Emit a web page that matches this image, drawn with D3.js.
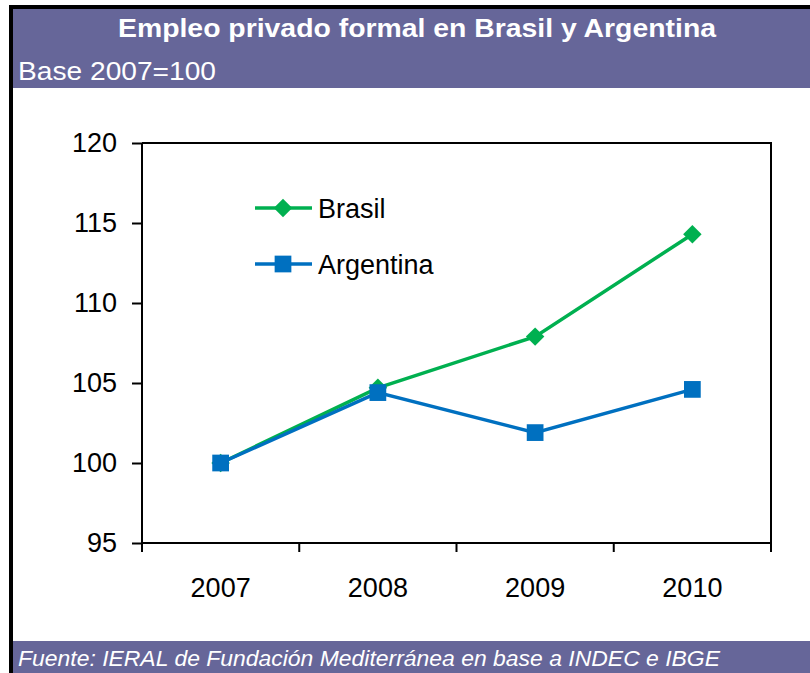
<!DOCTYPE html>
<html>
<head>
<meta charset="utf-8">
<script src="https://cdn.jsdelivr.net/npm/d3@7"></script>
<style>
  body { margin: 0; background: #fff; }
  text { font-family: "Liberation Sans", Arial, sans-serif; }
</style>
</head>
<body>
<div id="chart"></div>
<script>
// data
var years = ["2007", "2008", "2009", "2010"];
var brasil = [100, 104.7, 107.9, 114.3];
var argentina = [100, 104.4, 101.9, 104.6];
var yTicks = [95, 100, 105, 110, 115, 120];

var W = 810, H = 673;
var purple = "#666699";

var svg = d3.select("#chart").append("svg")
    .attr("width", W)
    .attr("height", H);

svg.append("rect").attr("width", W).attr("height", H).attr("fill", "#fff");

// frame: black border top/left, purple title band and footer band
svg.append("rect").attr("x", 9).attr("y", 5).attr("width", W - 9).attr("height", H - 5).attr("fill", "#000");
svg.append("rect").attr("x", 13).attr("y", 9).attr("width", W - 13).attr("height", H - 9).attr("fill", "#fff");
svg.append("rect").attr("x", 13).attr("y", 9).attr("width", W - 13).attr("height", 79).attr("fill", purple);
svg.append("rect").attr("x", 13).attr("y", 641).attr("width", W - 13).attr("height", H - 641).attr("fill", purple);

svg.append("text")
    .attr("x", 417).attr("y", 37)
    .attr("text-anchor", "middle")
    .attr("fill", "#fff")
    .style("font-size", "25px")
    .style("font-weight", "bold")
    .attr("textLength", 598).attr("lengthAdjust", "spacingAndGlyphs")
    .text("Empleo privado formal en Brasil y Argentina");

svg.append("text")
    .attr("x", 18).attr("y", 80)
    .attr("fill", "#fff")
    .style("font-size", "25px")
    .attr("textLength", 198).attr("lengthAdjust", "spacingAndGlyphs")
    .text("Base 2007=100");

svg.append("text")
    .attr("x", 18).attr("y", 666)
    .attr("fill", "#fff")
    .style("font-size", "22px")
    .style("font-style", "italic")
    .attr("textLength", 702).attr("lengthAdjust", "spacingAndGlyphs")
    .text("Fuente: IERAL de Fundación Mediterránea en base a INDEC e IBGE");

// plot area
var plotLeft = 142, plotRight = 771, plotTop = 143, plotBottom = 543;

var x = d3.scaleBand().domain(years).range([plotLeft, plotRight]);
var y = d3.scaleLinear().domain([95, 120]).range([plotBottom, plotTop]);

// box top and right
svg.append("path")
    .attr("d", "M" + plotLeft + "," + plotTop + "H" + plotRight + "V" + plotBottom)
    .attr("fill", "none")
    .attr("stroke", "#000")
    .attr("stroke-width", 2);

var yAxis = svg.append("g")
    .attr("transform", "translate(" + plotLeft + ",0)")
    .call(d3.axisLeft(y).tickValues(yTicks).tickSize(10).tickPadding(15));

var xAxis = svg.append("g")
    .attr("transform", "translate(0," + plotBottom + ")")
    .call(d3.axisBottom(x).tickSize(0).tickPadding(35));

// band boundary ticks on x axis
xAxis.selectAll(".bound")
    .data(years.map(function (d) { return x(d); }).concat([plotRight]))
    .enter().append("line")
    .attr("class", "bound")
    .attr("x1", function (d) { return d; })
    .attr("x2", function (d) { return d; })
    .attr("y1", 0).attr("y2", 9)
    .attr("stroke", "#000").attr("stroke-width", 2);

[yAxis, xAxis].forEach(function (g) {
    g.select(".domain").attr("stroke-width", 2);
    g.selectAll(".tick line").attr("stroke-width", 2);
    g.selectAll("text")
        .style("font-family", '"Liberation Sans", Arial, sans-serif')
        .style("font-size", "27px")
        .attr("fill", "#000");
});
yAxis.select(".domain").attr("d", "M0," + plotBottom + "V" + plotTop);
xAxis.select(".domain").attr("d", "M" + plotLeft + ",0H" + plotRight);

var cx = function (i) { return x(years[i]) + x.bandwidth() / 2; };

var line = d3.line()
    .x(function (d, i) { return cx(i); })
    .y(function (d) { return y(d); });

// diamond = square turned 45 degrees
var series = [
    { name: "Brasil", values: brasil, color: "#00B050", rot: 45, size: 170 },
    { name: "Argentina", values: argentina, color: "#0070C0", rot: 0, size: 280 }
];

series.forEach(function (s) {
    svg.append("path")
        .attr("d", line(s.values))
        .attr("fill", "none")
        .attr("stroke", s.color)
        .attr("stroke-width", 3.5);

    svg.selectAll(".pt-" + s.name)
        .data(s.values)
        .enter().append("path")
        .attr("class", "pt-" + s.name)
        .attr("transform", function (d, i) {
            return "translate(" + cx(i) + "," + y(d) + ") rotate(" + s.rot + ")";
        })
        .attr("d", d3.symbol().type(d3.symbolSquare).size(s.size))
        .attr("fill", s.color);
});

// legend
var legend = svg.selectAll(".legend")
    .data(series)
    .enter().append("g")
    .attr("class", "legend")
    .attr("transform", function (d, i) { return "translate(255," + (208 + i * 56) + ")"; });

legend.append("line")
    .attr("x1", 0).attr("x2", 57)
    .attr("stroke", function (d) { return d.color; })
    .attr("stroke-width", 3.5);

legend.append("path")
    .attr("transform", function (d) { return "translate(28,0) rotate(" + d.rot + ")"; })
    .attr("d", function (d) { return d3.symbol().type(d3.symbolSquare).size(d.size)(); })
    .attr("fill", function (d) { return d.color; });

legend.append("text")
    .attr("x", 63).attr("y", 10)
    .style("font-size", "27px")
    .attr("fill", "#000")
    .text(function (d) { return d.name; });
</script>
</body>
</html>
